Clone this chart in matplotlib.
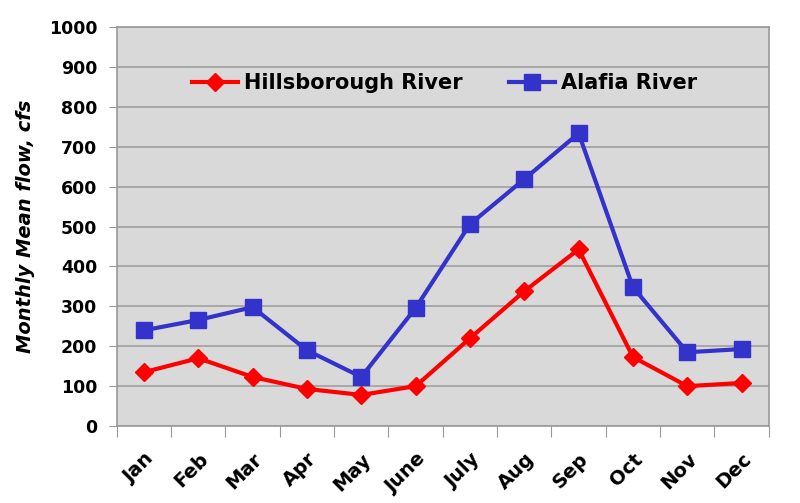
import matplotlib.pyplot as plt
import numpy as np

months = ["Jan", "Feb", "Mar", "Apr", "May", "June", "July", "Aug", "Sep", "Oct", "Nov", "Dec"]
hillsborough = [135, 170, 123, 93, 78, 100, 220, 338, 443, 173, 100, 108]
alafia = [240, 266, 298, 190, 123, 296, 506, 619, 734, 348, 185, 193]

fig = plt.figure(figsize=(8, 5.03), dpi=100)
ax = fig.add_axes([0.146, 0.153, 0.815, 0.793])
ax.set_facecolor("#d9d9d9")

x = np.arange(len(months))
ax.plot(x, hillsborough, color="#ff0000", lw=3, marker="D", ms=9, label="Hillsborough River")
ax.plot(x, alafia, color="#3333cc", lw=3, marker="s", ms=11, label="Alafia River")

ax.set_xlim(-0.5, len(months) - 0.5)
ax.set_ylim(0, 1000)
ax.set_yticks(range(0, 1001, 100))
ax.yaxis.grid(True, color="#a0a0a0", lw=1.2)
ax.set_axisbelow(True)

# ticks on category boundaries, labels at centres
ax.set_xticks(np.arange(-0.5, len(months), 1.0))
ax.set_xticklabels([])
ax.set_xticks(x, minor=True)
ax.set_xticklabels(months, minor=True, rotation=45, ha="right", rotation_mode="anchor",
                   fontsize=14, fontweight="bold")
ax.tick_params(axis="x", which="major", length=8, color="#999999", direction="out")
ax.tick_params(axis="x", which="minor", length=0, pad=17)
ax.tick_params(axis="y", length=6, color="#999999", labelsize=12.5, pad=8)
for lab in ax.get_yticklabels():
    lab.set_fontweight("bold")

for side in ["left", "bottom", "top", "right"]:
    ax.spines[side].set_color("#999999")
    ax.spines[side].set_linewidth(1.2)

ax.set_ylabel("Monthly Mean flow, cfs", fontsize=14, fontweight="bold", style="italic", labelpad=10)

leg = ax.legend(loc="center", bbox_to_anchor=(0.503, 0.86), ncol=2, frameon=False,
                prop={"weight": "bold", "size": 15}, columnspacing=2.2, handlelength=2.2,
                handletextpad=0.3)

plt.savefig("out.png", dpi=100)
